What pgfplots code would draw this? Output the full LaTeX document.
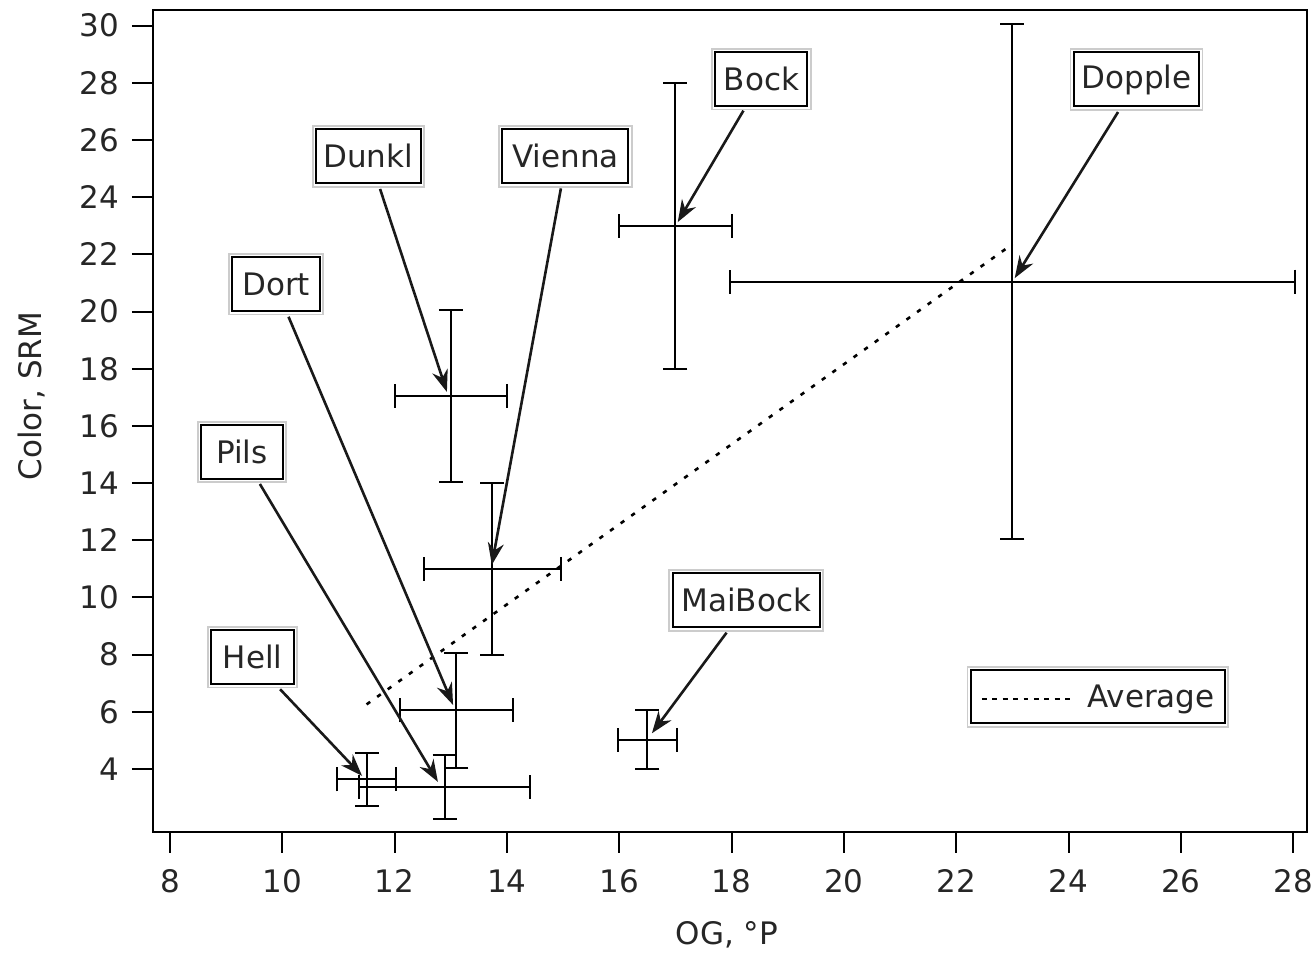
\documentclass[border=0pt]{standalone}
\usepackage{fontspec}
\setmainfont{DejaVu Sans}
\usepackage{pgfplots}
\pgfplotsset{compat=1.18}
\usepackage{pgfplotstable}
\usetikzlibrary{arrows.meta}

\pgfplotstableread{
x     y     ex    ey
11.5  3.64  0.52  0.92
12.89 3.37  1.52  1.12
13.1  6.05  1.0   2.0
13.0  17.05 1.0   3.0
13.74 11.0  1.22  3.0
17.0  23.0  1.0   5.0
23.0  21.05 5.03  9.0
16.5  5.02  0.53  1.03
}\beerdata

\pgfplotstableread{
x     y
11.5  6.26
23.0  22.36
}\avgdata

\tikzset{
  lbl/.style={draw=black, line width=1pt, fill=white, inner sep=0pt,
    minimum height=27pt, text=black!85,
    preaction={draw=gray!40, line width=4.2pt},
    preaction={draw=white, line width=2.4pt}},
  arr/.style={draw=black!90, line width=1.3pt, -{Stealth[length=11pt,width=8pt]}}
}

\begin{document}
\begin{tikzpicture}[font=\fontsize{15.5}{18}\selectfont]
\begin{axis}[
  at={(0,0)}, anchor=south west,
  scale only axis, width=576.85pt, height=410.85pt,
  xmin=7.697, xmax=28.239, ymin=1.807, ymax=30.55,
  xtick={8,10,...,28}, ytick={4,6,...,30},
  xtick pos=bottom, ytick pos=left,
  tick align=outside, major tick length=10.5pt,
  every tick/.style={black, line width=1pt},
  axis line style={black, line width=1pt},
  tick label style={font=\fontsize{15.5}{18}\selectfont, text=black!85},
  xticklabel style={yshift=-5pt},
  yticklabel style={xshift=-3pt},
  /pgf/number format/assume math mode=true,
  xlabel={OG, °P}, ylabel={Color, SRM},
  every axis x label/.style={at={(axis description cs:0.4975,-0.1257)}, anchor=center, text=black!85},
  every axis y label/.style={at={(axis description cs:-0.1049,0.53)}, rotate=90, anchor=center, text=black!85},
  clip=false,
]
\addplot[black, line width=1.3pt, dash pattern=on 2.2pt off 4.3pt] table[x=x,y=y] {\avgdata};
\addplot[draw=none, mark=none,
  error bars/.cd, x dir=both, x explicit, y dir=both, y explicit,
  error bar style={draw=black, line width=1pt},
  error mark options={rotate=90, mark size=6pt, line width=1pt, draw=black}]
  table[x=x, y=y, x error=ex, y error=ey] {\beerdata};

\draw[arr] (axis cs:18.21,27.03) -- (axis cs:17.04,23.13);
\draw[arr] (axis cs:24.88,26.98) -- (axis cs:23.04,21.17);
\draw[arr] (axis cs:11.74,24.29) -- (axis cs:12.93,17.19);
\draw[arr] (axis cs:14.96,24.31) -- (axis cs:13.73,11.14);
\draw[arr] (axis cs:10.11,19.82) -- (axis cs:13.04,6.24);
\draw[arr] (axis cs:9.60,13.97) -- (axis cs:12.77,3.55);
\draw[arr] (axis cs:9.96,6.79) -- (axis cs:11.42,3.76);
\draw[arr] (axis cs:17.91,8.77) -- (axis cs:16.58,5.25);

\node[lbl, minimum width=46pt] at (axis cs:18.53,28.13) {Bock};
\node[lbl, minimum width=62.7pt] at (axis cs:25.21,28.12) {Dopple};
\node[lbl, minimum width=52.3pt] at (axis cs:11.53,25.43) {Dunkl};
\node[lbl, minimum width=63pt] at (axis cs:15.04,25.43) {Vienna};
\node[lbl, minimum width=43.7pt] at (axis cs:9.89,20.96) {Dort};
\node[lbl, minimum width=41pt] at (axis cs:9.28,15.09) {Pils};
\node[lbl, minimum width=41.2pt] at (axis cs:9.47,7.91) {Hell};
\node[lbl, minimum width=73.7pt] at (axis cs:18.26,9.90) {MaiBock};
% legend
\node[lbl, minimum width=127pt, minimum height=26.7pt] at (axis cs:24.52,6.53) {};
\draw[black, line width=1.2pt, dash pattern=on 2.4pt off 2.8pt] (axis cs:22.456,6.45) -- (axis cs:24.112,6.45);
\node[text=black!85, inner sep=0pt] at (axis cs:25.465,6.42) {Average};
\end{axis}
\pgfresetboundingbox
\path[use as bounding box] (-76.5pt,-61.15pt) rectangle (580.5pt,415.85pt);
\end{tikzpicture}
\end{document}
